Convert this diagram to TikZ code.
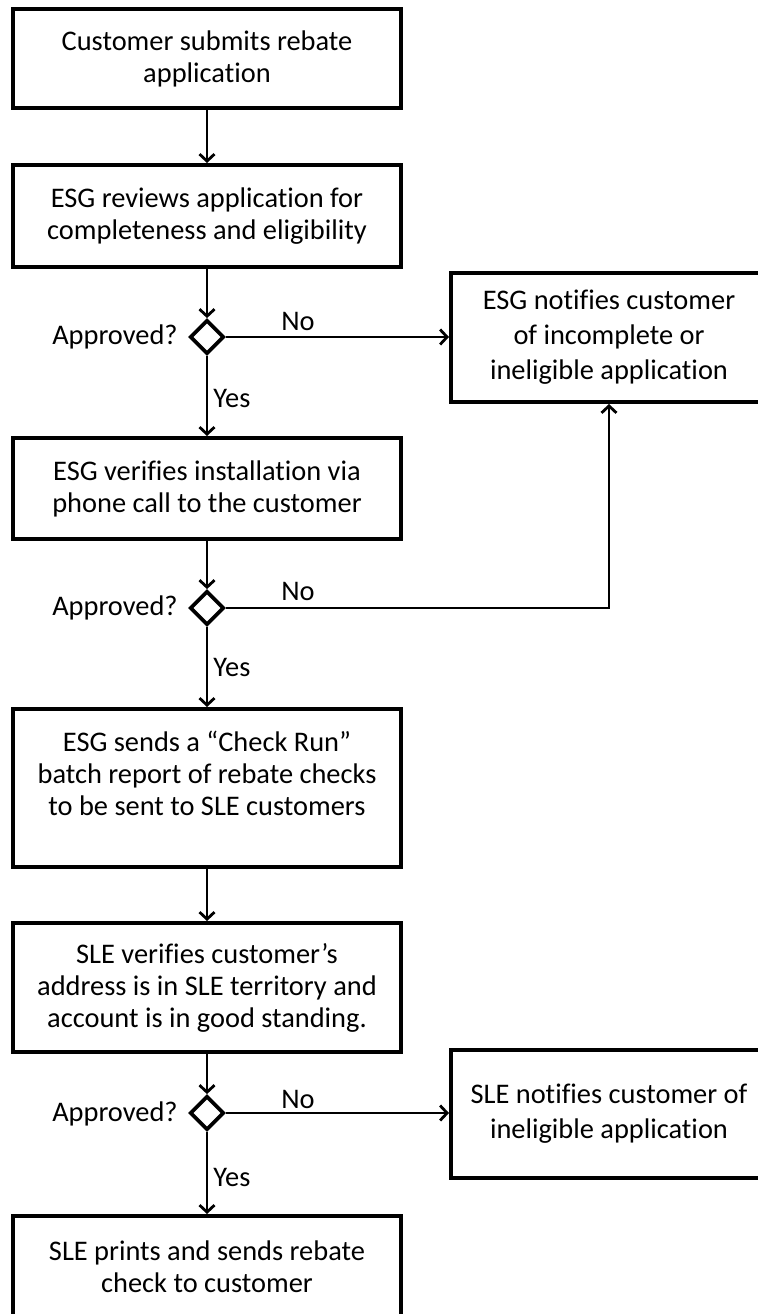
\documentclass[tikz,border=0pt]{standalone}
\usepackage{fontspec}
\setmainfont{Carlito}[Ligatures={TeX,NoCommon}]
\usetikzlibrary{shapes.geometric, arrows.meta}

\begin{document}
\begin{tikzpicture}[x=0.5pt, y=-0.5pt,
    box/.style={draw, line width=2pt, align=center, minimum width=194pt, inner sep=0pt, font=\fontsize{14.2}{16}\selectfont},
    sidebox/.style={box, minimum width=158pt, font=\fontsize{14.2}{17.5}\selectfont},
    decision/.style={diamond, draw, line width=1.9pt, minimum width=17pt, minimum height=17pt, inner sep=0pt},
    flow/.style={-{Straight Barb[length=3.5pt, width=7.5pt, line width=1.4pt]}, line width=0.9pt},
    lbl/.style={font=\fontsize{14.2}{16}\selectfont, inner sep=0pt}]
    \useasboundingbox (0,0) rectangle (758,1314);
    \clip (0,0) rectangle (758,1314);

    % Hauptfluss
    \node[box, minimum height=49.5pt] (sub) at (207, 58.5) {Customer submits rebate\\application};
    \node[box, minimum height=51pt] (rev) at (207, 216) {ESG reviews application for\\completeness and eligibility};
    \node[decision] (d1) at (207, 337) {};
    \node[box, minimum height=50.5pt] (ver) at (207, 488.5) {ESG verifies installation via\\phone call to the customer};
    \node[decision] (d2) at (207, 608) {};
    \node[box, minimum height=79pt] (run) at (207, 788) {ESG sends a “Check Run”\\batch report of rebate checks\\to be sent to SLE customers\\[-1pt]};
    \node[box, minimum height=64.5pt] (adr) at (207, 987.5) {SLE verifies customer’s\\address is in SLE territory and\\account is in good standing.};
    \node[decision] (d3) at (207, 1113) {};
    \node[box, minimum height=51pt] (prt) at (207, 1267) {SLE prints and sends rebate\\check to customer};

    % Ablehnungen
    \node[sidebox, minimum height=64.5pt] (nesg) at (609, 337.5) {ESG notifies customer\\of incomplete or\\ineligible application};
    \node[sidebox, minimum height=64pt] (nsle) at (609, 1114) {SLE notifies customer of\\ineligible application};

    % Beschriftungen
    \node[lbl, anchor=east] (q1) at (178, 337) {Approved?};
    \node[lbl, anchor=east] (q2) at (178, 608) {Approved?};
    \node[lbl, anchor=east] (q3) at (178, 1114) {Approved?};
    \node[lbl] (n1) at (298, 321) {No};
    \node[lbl] (n2) at (298, 591) {No};
    \node[lbl] (n3) at (298, 1099) {No};
    \node[lbl, anchor=west] (y1) at (213, 398) {Yes};
    \node[lbl, anchor=west] (y2) at (213, 667) {Yes};
    \node[lbl, anchor=west] (y3) at (213, 1177) {Yes};

    \draw[flow] (sub) -- (rev);
    \draw[flow] (rev) -- (d1);
    \draw[flow] (d1) -- (ver);
    \draw[flow] (ver) -- (d2);
    \draw[flow] (d2) -- (run);
    \draw[flow] (run) -- (adr);
    \draw[flow] (adr) -- (d3);
    \draw[flow] (d3) -- (prt);

    \draw[flow] (d1.east) -- (d1.east -| nesg.west);
    \draw[flow] (d2.east) -| (nesg.south);
    \draw[flow] (d3.east) -- (d3.east -| nsle.west);
\end{tikzpicture}
\end{document}
